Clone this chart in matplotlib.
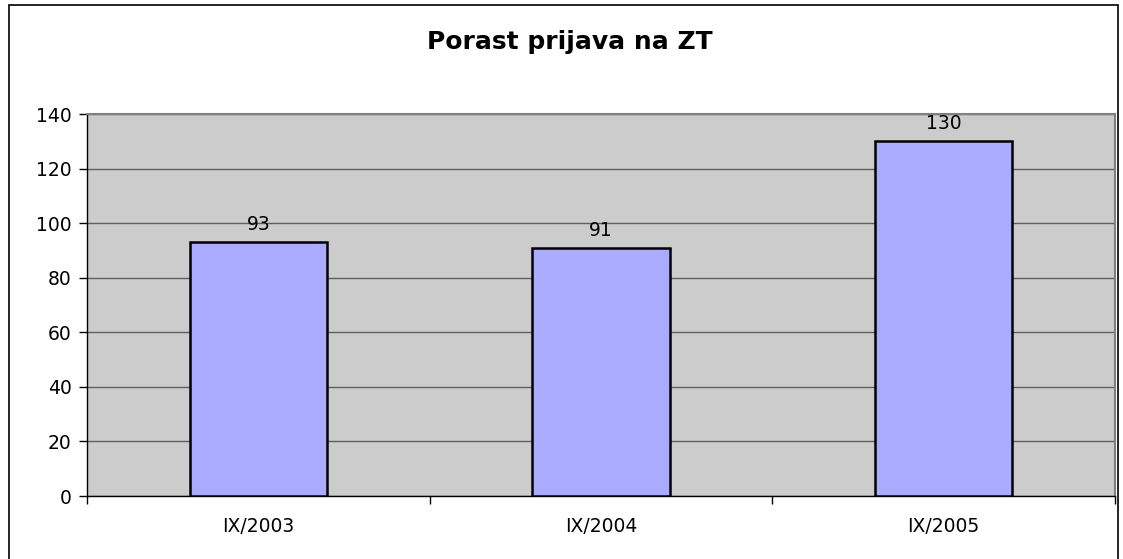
import matplotlib.pyplot as plt
from matplotlib.patches import Rectangle

# data
categories = ['IX/2003', 'IX/2004', 'IX/2005']
values = [93, 91, 130]
title = 'Porast prijava na ZT'

plt.rcParams['font.family'] = ['DejaVu Sans']

fig = plt.figure(figsize=(11.23, 5.59), dpi=100)
W, H = 1123, 559

# outer chart border (bottom edge sits off the picture)
fig.patches.append(Rectangle((9 / W, -10 / H), (1118 - 9) / W, (559 - 5 + 10) / H,
                             transform=fig.transFigure, fill=False,
                             edgecolor='#000000', linewidth=1.2))

ax = fig.add_axes([87 / W, (559 - 496) / H, (1115 - 87) / W, (496 - 114) / H])
ax.set_facecolor('#CCCCCC')

x = list(range(len(categories)))
ax.bar(x, values, width=0.4, color='#AAAAFF', edgecolor='black', linewidth=1.8, zorder=3)

for xi, v in zip(x, values):
    ax.text(xi, v + 3, str(v), ha='center', va='bottom', fontsize=13.5, zorder=4)

ax.set_xlim(-0.5, len(categories) - 0.5)
ax.set_ylim(0, 140)
ax.set_yticks(range(0, 141, 20))
ax.yaxis.grid(True, color='#606060', linewidth=1, zorder=1)
ax.set_axisbelow(True)

ax.set_xticks(x)
ax.set_xticklabels(categories)
ax.set_xticks([i - 0.5 for i in range(len(categories) + 1)], minor=True)
ax.tick_params(axis='x', which='major', length=0, pad=15, labelsize=13.5)
ax.tick_params(axis='x', which='minor', length=6, width=1, color='black', direction='out')
ax.tick_params(axis='y', length=6, width=1, direction='out', pad=5, labelsize=13.5)

for s in ['top', 'right']:
    ax.spines[s].set_color('#808080')
    ax.spines[s].set_linewidth(1.5)
ax.spines['left'].set_color('black')
ax.spines['bottom'].set_color('black')
ax.spines['left'].set_linewidth(1)
ax.spines['bottom'].set_linewidth(1)

fig.text(570 / W, 1 - 42 / H, title, ha='center', va='center',
         fontsize=18, fontweight='bold')

fig.savefig('out.png', dpi=100)
